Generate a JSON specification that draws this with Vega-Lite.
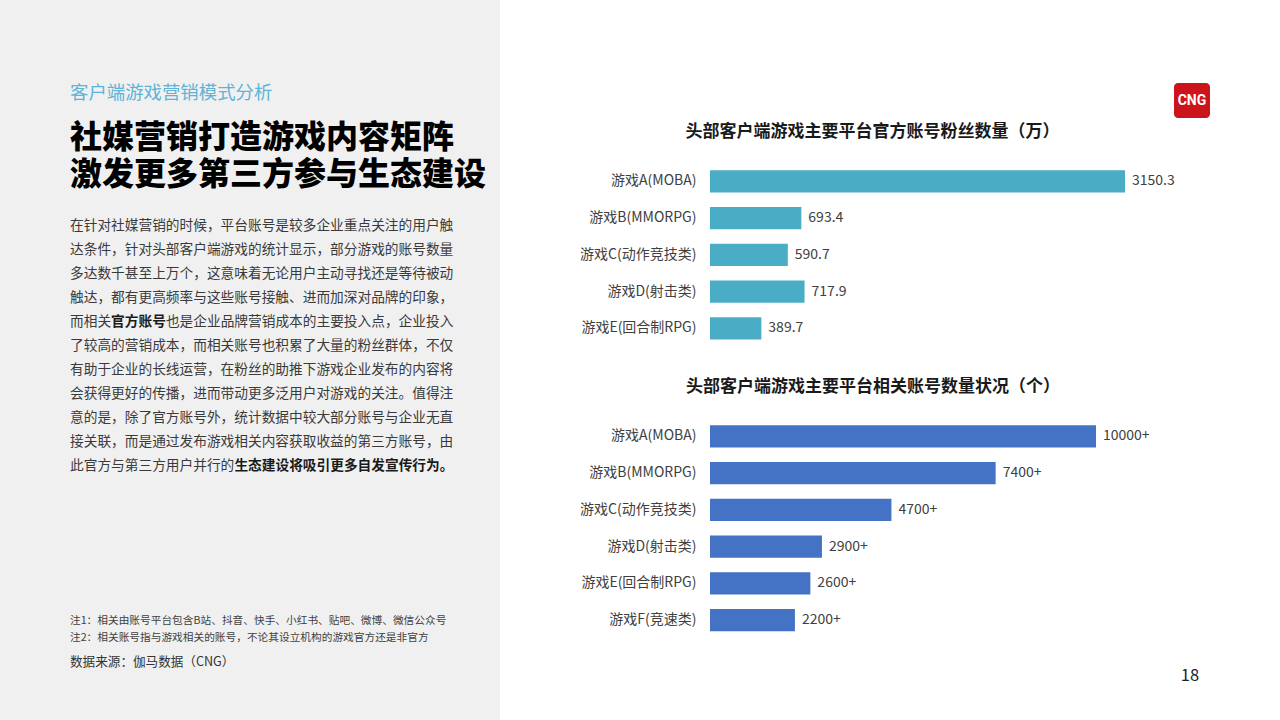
{
  "$schema": "https://vega.github.io/schema/vega-lite/v6.json",
  "background": "white",
  "padding": 0,
  "spacing": 0,
  "config": {
    "font": "Noto Sans CJK SC",
    "view": {"stroke": null},
    "concat": {"spacing": 0},
    "text": {"font": "Noto Sans CJK SC"},
    "axis": {"labelFont": "Noto Sans CJK SC"}
  },
  "hconcat": [
    {
      "spacing": 0,
      "hconcat": [
        {"width": 70, "height": 720, "view": {"fill": "#f0f0f0"}, "data": {"values": []}, "mark": "text"},
        {
          "spacing": 0,
          "vconcat": [
            {"width": 430, "height": 72, "view": {"fill": "#f0f0f0"}, "data": {"values": []}, "mark": "text"},
            {
              "width": 430, "height": 42, "view": {"fill": "#f0f0f0"},
              "data": {"values": [{"text": "客户端游戏营销模式分析"}]},
              "mark": {"type": "text", "align": "left", "fontSize": 18.4, "color": "#5db4d8"},
              "encoding": {
                "x": {"datum": 0, "type": "quantitative", "scale": {"domain": [0, 1]}, "axis": null},
                "text": {"field": "text"}
              }
            },
            {"width": 430, "height": 5, "view": {"fill": "#f0f0f0"}, "data": {"values": []}, "mark": "text"},
            {
              "width": 430, "height": {"step": 37.5}, "view": {"fill": "#f0f0f0"},
              "data": {"values": [
                {"line": 1, "text": "社媒营销打造游戏内容矩阵"},
                {"line": 2, "text": "激发更多第三方参与生态建设"}
              ]},
              "mark": {"type": "text", "align": "left", "fontSize": 32, "fontWeight": 900, "color": "#000000"},
              "encoding": {
                "x": {"datum": 0, "type": "quantitative", "scale": {"domain": [0, 1]}, "axis": null},
                "y": {"field": "line", "type": "ordinal", "axis": null},
                "text": {"field": "text"}
              }
            },
            {"width": 430, "height": 20, "view": {"fill": "#f0f0f0"}, "data": {"values": []}, "mark": "text"},
            {
              "width": 430, "height": {"step": 24}, "view": {"fill": "#f0f0f0"},
              "encoding": {
                "x": {"datum": 0, "type": "quantitative", "scale": {"domain": [0, 1]}, "axis": null},
                "y": {"field": "line", "type": "ordinal", "axis": null},
                "text": {"field": "text"}
              },
              "layer": [
                {
                  "data": {"values": [
                    {"line": 1, "text": "在针对社媒营销的时候，平台账号是较多企业重点关注的用户触"},
                    {"line": 2, "text": "达条件，针对头部客户端游戏的统计显示，部分游戏的账号数量"},
                    {"line": 3, "text": "多达数千甚至上万个，这意味着无论用户主动寻找还是等待被动"},
                    {"line": 4, "text": "触达，都有更高频率与这些账号接触、进而加深对品牌的印象，"},
                    {"line": 5, "text": "而相关"},
                    {"line": 6, "text": "了较高的营销成本，而相关账号也积累了大量的粉丝群体，不仅"},
                    {"line": 7, "text": "有助于企业的长线运营，在粉丝的助推下游戏企业发布的内容将"},
                    {"line": 8, "text": "会获得更好的传播，进而带动更多泛用户对游戏的关注。值得注"},
                    {"line": 9, "text": "意的是，除了官方账号外，统计数据中较大部分账号与企业无直"},
                    {"line": 10, "text": "接关联，而是通过发布游戏相关内容获取收益的第三方账号，由"},
                    {"line": 11, "text": "此官方与第三方用户并行的"}
                  ]},
                  "mark": {"type": "text", "align": "left", "fontSize": 13.7, "color": "#3a3a3a"}
                },
                {
                  "data": {"values": [{"line": 5, "text": "官方账号"}]},
                  "mark": {"type": "text", "align": "left", "fontSize": 13.7, "fontWeight": "bold", "color": "#1a1a1a", "dx": 41.1}
                },
                {
                  "data": {"values": [{"line": 5, "text": "也是企业品牌营销成本的主要投入点，企业投入"}]},
                  "mark": {"type": "text", "align": "left", "fontSize": 13.7, "color": "#3a3a3a", "dx": 95.9}
                },
                {
                  "data": {"values": [{"line": 11, "text": "生态建设将吸引更多自发宣传行为。"}]},
                  "mark": {"type": "text", "align": "left", "fontSize": 13.7, "fontWeight": "bold", "color": "#1a1a1a", "dx": 164.4}
                }
              ]
            },
            {"width": 430, "height": 135, "view": {"fill": "#f0f0f0"}, "data": {"values": []}, "mark": "text"},
            {
              "width": 430, "height": {"step": 16.5}, "view": {"fill": "#f0f0f0"},
              "data": {"values": [
                {"line": 1, "text": "注1：相关由账号平台包含B站、抖音、快手、小红书、贴吧、微博、微信公众号"},
                {"line": 2, "text": "注2：相关账号指与游戏相关的账号，不论其设立机构的游戏官方还是非官方"}
              ]},
              "mark": {"type": "text", "align": "left", "fontSize": 10.7, "color": "#404040"},
              "encoding": {
                "x": {"datum": 0, "type": "quantitative", "scale": {"domain": [0, 1]}, "axis": null},
                "y": {"field": "line", "type": "ordinal", "axis": null},
                "text": {"field": "text"}
              }
            },
            {"width": 430, "height": 4, "view": {"fill": "#f0f0f0"}, "data": {"values": []}, "mark": "text"},
            {
              "width": 430, "height": 24, "view": {"fill": "#f0f0f0"},
              "data": {"values": [{"text": "数据来源：伽马数据（CNG）"}]},
              "mark": {"type": "text", "align": "left", "fontSize": 12.6, "color": "#333333"},
              "encoding": {
                "x": {"datum": 0, "type": "quantitative", "scale": {"domain": [0, 1]}, "axis": null},
                "text": {"field": "text"}
              }
            },
            {"width": 430, "height": 46, "view": {"fill": "#f0f0f0"}, "data": {"values": []}, "mark": "text"}
          ]
        }
      ]
    },
    {
      "spacing": 0,
      "vconcat": [
        {
          "spacing": 0,
          "hconcat": [
            {"width": 464, "height": 123, "data": {"values": []}, "mark": "text"},
            {
              "spacing": 0,
              "vconcat": [
                {"width": 36, "height": 83, "data": {"values": []}, "mark": "text"},
                {
                  "width": 36, "height": 35,
                  "view": {"fill": "#cc141c", "cornerRadius": 4},
                  "data": {"values": [{"brand": "CNG"}]},
                  "mark": {"type": "text", "color": "white", "fontWeight": "bold", "fontSize": 14, "font": "Roboto"},
                  "encoding": {"text": {"field": "brand"}}
                }
              ]
            }
          ]
        },
        {
          "width": 415,
          "height": {"step": 36.75},
          "title": {"text": "头部客户端游戏主要平台官方账号粉丝数量（万）", "fontSize": 17, "fontWeight": "bold", "color": "#1a1a1a", "anchor": "middle", "frame": "group", "dx": -45, "offset": 22},
          "data": {"values": [
            {"game": "游戏A(MOBA)", "fans": 3150.3},
            {"game": "游戏B(MMORPG)", "fans": 693.4},
            {"game": "游戏C(动作竞技类)", "fans": 590.7},
            {"game": "游戏D(射击类)", "fans": 717.9},
            {"game": "游戏E(回合制RPG)", "fans": 389.7}
          ]},
          "encoding": {
            "y": {"field": "game", "type": "nominal", "sort": null, "scale": {"paddingInner": 0.4, "paddingOuter": 0.2},
                  "axis": {"title": null, "domain": false, "ticks": false, "labelFontSize": 14, "labelColor": "#404040", "labelPadding": 14, "minExtent": 210, "maxExtent": 210}},
            "x": {"field": "fans", "type": "quantitative", "axis": null, "scale": {"domain": [0, 3150.3], "nice": false}}
          },
          "layer": [
            {"mark": {"type": "bar", "color": "#4bacc6"}},
            {"mark": {"type": "text", "align": "left", "dx": 7, "fontSize": 14, "color": "#404040"},
             "encoding": {"text": {"field": "fans", "type": "quantitative", "format": ".1f"}}}
          ]
        },
        {"width": 400, "height": 31, "data": {"values": []}, "mark": "text"},
        {
          "width": 386,
          "height": {"step": 36.75},
          "title": {"text": "头部客户端游戏主要平台相关账号数量状况（个）", "fontSize": 17, "fontWeight": "bold", "color": "#1a1a1a", "anchor": "middle", "frame": "group", "dx": -30, "offset": 22},
          "data": {"values": [
            {"game": "游戏A(MOBA)", "accounts": 10000, "label": "10000+"},
            {"game": "游戏B(MMORPG)", "accounts": 7400, "label": "7400+"},
            {"game": "游戏C(动作竞技类)", "accounts": 4700, "label": "4700+"},
            {"game": "游戏D(射击类)", "accounts": 2900, "label": "2900+"},
            {"game": "游戏E(回合制RPG)", "accounts": 2600, "label": "2600+"},
            {"game": "游戏F(竞速类)", "accounts": 2200, "label": "2200+"}
          ]},
          "encoding": {
            "y": {"field": "game", "type": "nominal", "sort": null, "scale": {"paddingInner": 0.4, "paddingOuter": 0.2},
                  "axis": {"title": null, "domain": false, "ticks": false, "labelFontSize": 14, "labelColor": "#404040", "labelPadding": 14, "minExtent": 210, "maxExtent": 210}},
            "x": {"field": "accounts", "type": "quantitative", "axis": null, "scale": {"domain": [0, 10000], "nice": false}}
          },
          "layer": [
            {"mark": {"type": "bar", "color": "#4472c4"}},
            {"mark": {"type": "text", "align": "left", "dx": 7, "fontSize": 14, "color": "#404040"},
             "encoding": {"text": {"field": "label"}}}
          ]
        },
        {
          "width": 480, "height": 73,
          "data": {"values": [{"page": "18"}]},
          "mark": {"type": "text", "align": "center", "fontSize": 16.5, "color": "#222222"},
          "encoding": {
            "x": {"datum": 1, "type": "quantitative", "scale": {"domain": [0, 1]}, "axis": null},
            "text": {"field": "page"}
          }
        }
      ]
    }
  ]
}
